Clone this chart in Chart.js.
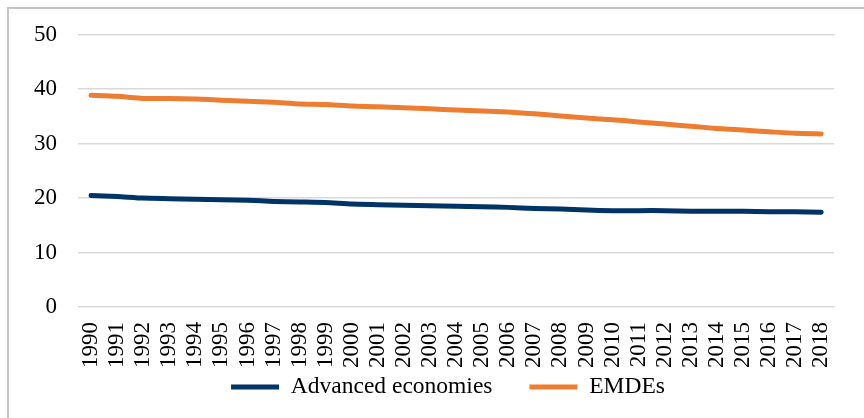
<!DOCTYPE html>
<html>
<head>
<meta charset="utf-8">
<script src="https://cdn.jsdelivr.net/npm/chart.js@4.4.1/dist/chart.umd.min.js"></script>
<style>
  html, body { margin: 0; padding: 0; background: #ffffff; overflow: hidden; }
  #wrap { position: relative; width: 864px; height: 418px; }
  #frame { position: absolute; left: 7px; top: 7px; width: 1000px; height: 1000px; border: 2px solid #c6c6c6; box-sizing: border-box; }
  canvas { position: absolute; left: 0; top: 0; }
</style>
</head>
<body>
<div id="wrap">
  <div id="frame"></div>
  <canvas id="c" width="864" height="418"></canvas>
</div>
<script>
const years = ['1990','1991','1992','1993','1994','1995','1996','1997','1998','1999','2000','2001','2002','2003','2004','2005','2006','2007','2008','2009','2010','2011','2012','2013','2014','2015','2016','2017','2018'];
const advancedEconomies = [20.5,20.3,20.0,19.9,19.8,19.7,19.6,19.4,19.3,19.2,18.9,18.8,18.7,18.6,18.5,18.4,18.3,18.1,18.0,17.8,17.7,17.7,17.7,17.6,17.6,17.6,17.5,17.5,17.4];
const emdes = [38.9,38.7,38.3,38.3,38.2,38.0,37.8,37.6,37.3,37.2,36.9,36.8,36.6,36.4,36.2,36.0,35.8,35.5,35.1,34.7,34.4,34.0,33.6,33.2,32.8,32.5,32.2,31.9,31.8];
const seriesNames = ['Advanced economies', 'EMDEs'];
const yTicks = { min: 0, max: 50, step: 10 };

const FONT = "'Liberation Serif', 'Times New Roman', serif";
const LEGEND_FONT = 23.5;
const LEGEND_GAP = 37;
const LEGEND_BOX_HEIGHT = 49;
const LEGEND_CENTER_Y = 387;

// Keeps the legend compact vertically while using a wide horizontal gap between items.
const legendLayout = {
  id: 'legendLayout',
  beforeLayout(chart) {
    const lg = chart.legend;
    if (!lg || lg.__patched) return;
    lg.__patched = true;
    const origFit = lg.fit;
    lg.fit = function () { origFit.call(this); this.height = LEGEND_BOX_HEIGHT; };
    const origDraw = lg.draw;
    lg.draw = function () {
      const top = this.top, height = this.height;
      const dy = LEGEND_CENTER_Y - (top + LEGEND_GAP + LEGEND_FONT / 2);
      this.top = top + dy;
      this.height = this.bottom - this.top;
      origDraw.call(this);
      this.top = top;
      this.height = height;
    };
  }
};

new Chart(document.getElementById('c'), {
  type: 'line',
  data: {
    labels: years,
    datasets: [
      { label: seriesNames[0], data: advancedEconomies, borderColor: '#003366', backgroundColor: '#003366',
        borderWidth: 5, pointRadius: 0, tension: 0.2, borderCapStyle: 'round', borderJoinStyle: 'round', yAxisID: 'y' },
      { label: seriesNames[1], data: emdes, borderColor: '#ED7D31', backgroundColor: '#ED7D31',
        borderWidth: 5, pointRadius: 0, tension: 0.2, borderCapStyle: 'round', borderJoinStyle: 'round', yAxisID: 'y' }
    ]
  },
  plugins: [legendLayout],
  options: {
    responsive: false,
    animation: false,
    devicePixelRatio: 1,
    layout: { padding: { left: 34, right: 2, top: 32, bottom: 0 } },
    plugins: {
      legend: {
        position: 'bottom',
        labels: {
          usePointStyle: true,
          pointStyle: 'line',
          pointStyleWidth: 48,
          boxHeight: 5,
          padding: LEGEND_GAP,
          color: '#000000',
          font: { family: FONT, size: LEGEND_FONT }
        }
      },
      tooltip: { enabled: false }
    },
    scales: {
      x: {
        offset: true,
        afterFit: (s) => { s.height = 62; },
        grid: { display: false, drawTicks: false },
        border: { display: false },
        ticks: { color: '#000000', font: { family: FONT, size: 23 }, minRotation: 90, maxRotation: 90, padding: 15, autoSkip: false }
      },
      y: {
        min: yTicks.min, max: yTicks.max,
        afterFit: (s) => { s.width = 44; },
        grid: { color: '#d9d9d9', lineWidth: 1.5, drawTicks: false },
        border: { display: false },
        ticks: { stepSize: yTicks.step, color: '#000000', font: { family: FONT, size: 23 }, padding: 21 }
      },
      yRight: {
        position: 'right',
        min: yTicks.min, max: yTicks.max,
        afterFit: (s) => { s.width = 11; },
        grid: { display: false, drawTicks: false },
        border: { display: false },
        ticks: { display: false }
      }
    }
  }
});
</script>
</body>
</html>
